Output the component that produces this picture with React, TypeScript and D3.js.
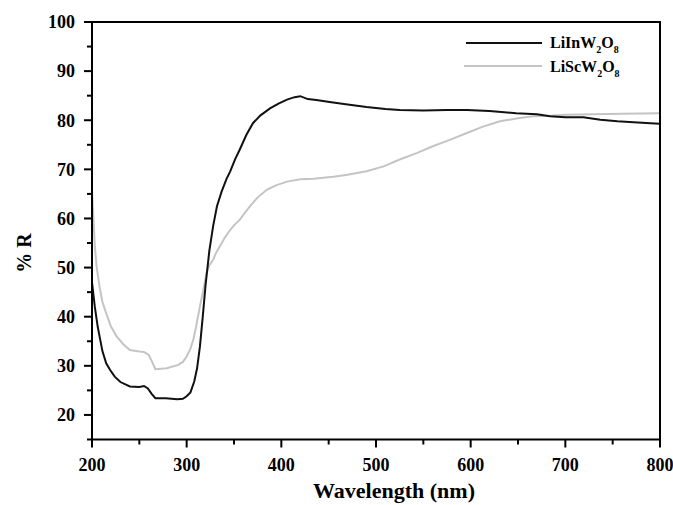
import React from "react";
import * as d3 from "d3";

const liInW2O8: [number, number][] = [
  [200, 47], [203, 42], [206, 38], [208, 36], [211, 33], [215, 30.5], [219, 29.2], [224, 27.8],
  [230, 26.7], [240, 25.8], [250, 25.7], [255, 25.9], [259, 25.4], [263, 24.3], [267, 23.4],
  [278, 23.4], [290, 23.2], [296, 23.3], [300, 23.8], [304, 24.6], [308, 26.8], [311, 29.5],
  [314, 33.9], [317, 40], [320, 46.5], [324, 53.5], [328, 58.5], [332, 62.5], [337, 65.5],
  [342, 68], [346, 69.6], [351, 72], [356, 74], [363, 77], [370, 79.4], [378, 81], [388, 82.4],
  [397, 83.4], [406, 84.2], [414, 84.7], [420, 84.9], [428, 84.3], [437, 84.1], [451, 83.7],
  [470, 83.2], [490, 82.7], [510, 82.3], [525, 82.1], [550, 82], [575, 82.1], [596, 82.1],
  [620, 81.9], [648, 81.4], [670, 81.2], [684, 80.8], [700, 80.6], [719, 80.6], [737, 80.1],
  [755, 79.8], [772, 79.6], [790, 79.4], [800, 79.3],
];

const liScW2O8: [number, number][] = [
  [200, 65.5], [201, 62], [203, 54.3], [205, 50], [208, 46.1], [211, 43], [215, 40.7], [220, 38],
  [226, 36], [233, 34.4], [240, 33.2], [250, 32.9], [255, 32.8], [260, 32.2], [263, 31],
  [267, 29.3], [279, 29.5], [291, 30.2], [296, 30.8], [300, 31.9], [304, 33.5], [307, 35.3],
  [310, 38], [314, 42.1], [318, 45.8], [321, 48.9], [324, 50.5], [328, 51.6], [331, 53],
  [335, 54.3], [340, 56], [346, 57.7], [351, 58.8], [356, 59.7], [362, 61.3], [367, 62.5],
  [375, 64.3], [385, 65.9], [395, 66.8], [406, 67.5], [420, 68], [434, 68.1], [455, 68.5],
  [470, 68.9], [490, 69.6], [508, 70.6], [525, 72], [543, 73.3], [560, 74.7], [578, 76],
  [596, 77.4], [613, 78.7], [631, 79.8], [650, 80.4], [666, 80.8], [684, 80.9], [701, 81.1],
  [730, 81.2], [760, 81.3], [800, 81.4],
];

const xMajorTicks = [200, 300, 400, 500, 600, 700, 800];
const xMinorTicks = [250, 350, 450, 550, 650, 750];
const yMajorTicks = [20, 30, 40, 50, 60, 70, 80, 90, 100];
const yMinorTicks = [15, 25, 35, 45, 55, 65, 75, 85, 95];

const seriesNames = ["LiInW", "LiScW"];

const W = 673;
const H = 505;
const left = 92;
const right = 660;
const top = 22;
const bottom = 439.5;
const font = "'Liberation Serif', 'Times New Roman', serif";

export default function App() {
  const x = d3.scaleLinear().domain([200, 800]).range([left, right]);
  const y = d3.scaleLinear().domain([15, 100]).range([bottom, top]);
  const line = d3
    .line<[number, number]>()
    .x((d) => x(d[0]))
    .y((d) => y(d[1]));

  return (
    <div style={{ position: "fixed", left: 0, top: 0 }}>
      <svg width={W} height={H} style={{ display: "block", background: "#fff" }}>
        <rect x={0} y={0} width={W} height={H} fill="#fff" />
        <path d={line(liScW2O8) || ""} fill="none" stroke="#c4c4c4" strokeWidth={2} />
        <path d={line(liInW2O8) || ""} fill="none" stroke="#111" strokeWidth={2} />

        {/* frame */}
        <rect x={left} y={top} width={right - left} height={bottom - top} fill="none" stroke="#000" strokeWidth={2} />

        {/* y ticks */}
        {yMajorTicks.map((t) => (
          <g key={"ym" + t}>
            <line x1={left - 8} x2={left} y1={y(t)} y2={y(t)} stroke="#000" strokeWidth={2} />
            <text x={left - 17} y={y(t)} dy="0.35em" textAnchor="end" fontFamily={font} fontWeight="bold" fontSize={18}>
              {t}
            </text>
          </g>
        ))}
        {yMinorTicks.map((t) => (
          <line key={"yn" + t} x1={left - 5} x2={left} y1={y(t)} y2={y(t)} stroke="#000" strokeWidth={2} />
        ))}

        {/* x ticks */}
        {xMajorTicks.map((t) => (
          <g key={"xm" + t}>
            <line x1={x(t)} x2={x(t)} y1={bottom} y2={bottom + 8} stroke="#000" strokeWidth={2} />
            <text x={x(t)} y={bottom + 31} textAnchor="middle" fontFamily={font} fontWeight="bold" fontSize={18}>
              {t}
            </text>
          </g>
        ))}
        {xMinorTicks.map((t) => (
          <line key={"xn" + t} x1={x(t)} x2={x(t)} y1={bottom} y2={bottom + 5} stroke="#000" strokeWidth={2} />
        ))}

        {/* axis titles */}
        <text x={(left + right) / 2 + 18} y={498} textAnchor="middle" fontFamily={font} fontWeight="bold" fontSize={22}>
          Wavelength (nm)
        </text>
        <text
          transform={`translate(31, 253) rotate(-90)`}
          textAnchor="middle"
          fontFamily={font}
          fontWeight="bold"
          fontSize={20}
        >
          % R
        </text>

        {/* legend */}
        <line x1={466} x2={542} y1={43} y2={43} stroke="#111" strokeWidth={2} />
        <line x1={464} x2={542} y1={66} y2={66} stroke="#c4c4c4" strokeWidth={2} />
        {seriesNames.map((n, i) => (
          <text key={n} x={550} y={48 + i * 24} fontFamily={font} fontWeight="bold" fontSize={16}>
            {n}
            <tspan fontSize={10} dy={5}>2</tspan>
            <tspan dy={-5}>O</tspan>
            <tspan fontSize={10} dy={5}>8</tspan>
          </text>
        ))}
      </svg>
    </div>
  );
}
